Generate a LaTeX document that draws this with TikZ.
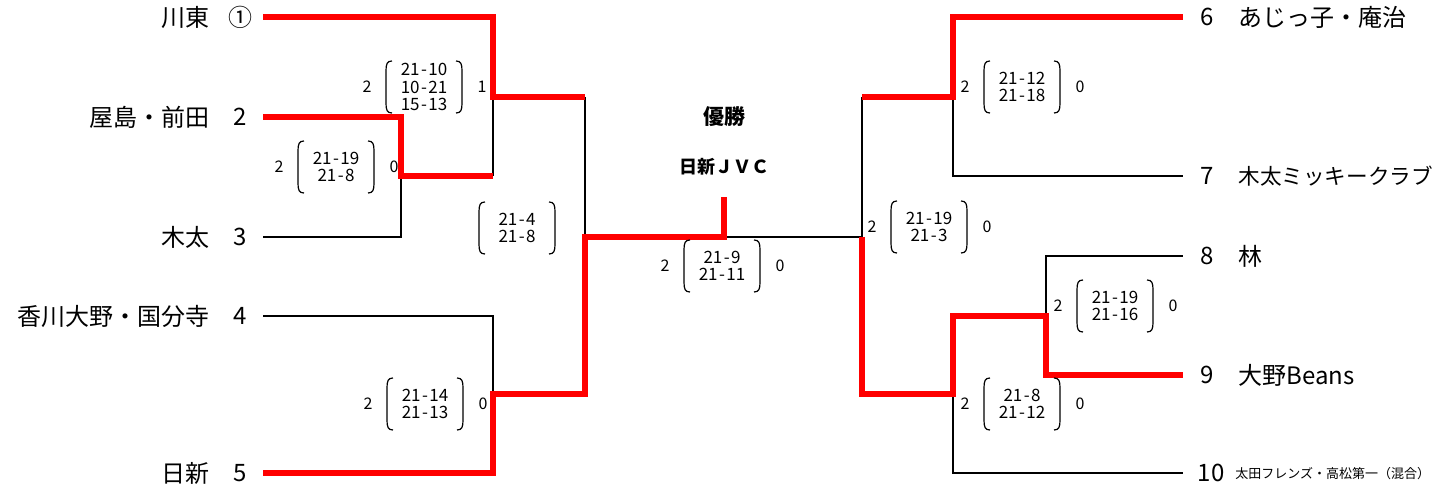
\documentclass[tikz,border=0pt]{standalone}
\usepackage{fontspec}
\newfontfamily\jp{Noto Sans CJK JP}
\newcommand\hy{\kern0.7pt-\kern0.7pt}
\tikzset{
  lose/.style={draw=black, line width=1.1pt},
  win/.style={draw=red, line width=2.6pt, line join=miter},
  team/.style={font=\jp\fontsize{12}{14}\selectfont, inner sep=0pt},
  smallteam/.style={font=\jp\fontsize{6.5}{8}\selectfont, inner sep=0pt},
  scoretxt/.style={font=\jp\fontsize{8.5}{8.8}\selectfont, align=center, inner sep=0pt},
  sidenum/.style={font=\jp\fontsize{8}{9}\selectfont, inner sep=0pt},
  brk/.style={draw=black, line width=0.6pt},
  champ/.style={font=\jp\bfseries\fontsize{10.5}{12}\selectfont, inner sep=0pt},
}
% score box: #1 name, #2 x, #3 y, #4 text, #5 left number, #6 right number
\newcommand\scorebx[6]{%
  \node[scoretxt] (#1) at (#2,#3) {#4};
  \draw[brk] ({#2-32},{#3-26}) .. controls ({#2-37},{#3-26}) and ({#2-38},{#3-23}) .. ({#2-38},{#3-16})
     -- ({#2-38},{#3+16}) .. controls ({#2-38},{#3+23}) and ({#2-37},{#3+26}) .. ({#2-32},{#3+26});
  \draw[brk] ({#2+32},{#3-26}) .. controls ({#2+37},{#3-26}) and ({#2+38},{#3-23}) .. ({#2+38},{#3-16})
     -- ({#2+38},{#3+16}) .. controls ({#2+38},{#3+23}) and ({#2+37},{#3+26}) .. ({#2+32},{#3+26});
  \node[sidenum] (#1l) at ({#2-57},#3) {#5};
  \node[sidenum] (#1r) at ({#2+58},#3) {#6};
}
\begin{document}
\begin{tikzpicture}[x=0.5pt,y=-0.5pt]
\useasboundingbox (0,0) rectangle (1450,490);

% ---- left team labels
\node[team, anchor=east] (t1) at (210,17) {川東};
\node[team] (n1) at (240,17) {①};
\node[team, anchor=east] (t2) at (210,117) {屋島・前田};
\node[team] (n2) at (240,117) {2};
\node[team, anchor=east] (t3) at (210,237) {木太};
\node[team] (n3) at (240,237) {3};
\node[team, anchor=east] (t4) at (210,316) {香川大野・国分寺};
\node[team] (n4) at (240,316) {4};
\node[team, anchor=east] (t5) at (210,473) {日新};
\node[team] (n5) at (240,473) {5};

% ---- right team labels
\node[team] (n6) at (1207,17) {6};
\node[team, anchor=west] (t6) at (1238,17) {あじっ子・庵治};
\node[team] (n7) at (1207,176) {7};
\node[team, anchor=west, font=\jp\fontsize{10.8}{13}\selectfont] (t7) at (1238,176) {木太ミッキークラブ};
\node[team] (n8) at (1207,256) {8};
\node[team, anchor=west] (t8) at (1238,256) {林};
\node[team] (n9) at (1207,375) {9};
\node[team, anchor=west] (t9) at (1238,375) {大野Beans};
\node[team] (n10) at (1211,473) {10};
\node[smallteam, anchor=west] (t10) at (1235,474) {太田フレンズ・高松第一（混合）};

% ---- coordinates
\coordinate (p1) at (263,17);
\coordinate (p2) at (263,117);
\coordinate (p3) at (263,237);
\coordinate (p4) at (263,316);
\coordinate (p5) at (263,473);
\coordinate (j1a) at (493,17);
\coordinate (j1) at (493,97);
\coordinate (j23a) at (401,117);
\coordinate (j23) at (401,176);
\coordinate (j23b) at (493,176);
\coordinate (j3) at (401,237);
\coordinate (jL) at (585,97);
\coordinate (jLm) at (585,237);
\coordinate (j4) at (493,316);
\coordinate (j45) at (493,394);
\coordinate (jLb) at (585,394);
\coordinate (j5) at (493,473);
\coordinate (cm) at (724,237);
\coordinate (cmtop) at (724,197);
\coordinate (jR) at (862,237);
\coordinate (jRt) at (862,97);
\coordinate (jRb) at (862,394);
\coordinate (q6) at (1183,17);
\coordinate (q7) at (1183,176);
\coordinate (q8) at (1183,256);
\coordinate (q9) at (1183,375);
\coordinate (q10) at (1183,473);
\coordinate (k67) at (953,97);
\coordinate (k6) at (953,17);
\coordinate (k7) at (953,176);
\coordinate (k810) at (953,394);
\coordinate (k89) at (953,316);
\coordinate (k10) at (953,473);
\coordinate (m89) at (1046,316);
\coordinate (m8) at (1046,256);
\coordinate (m9) at (1046,375);

% ---- black lines
\draw[lose] (j1) -- (j23b);
\draw[lose] (j23) -- (j3) -- (p3);
\draw[lose] (jL) -- (jLm);
\draw[lose] (p4) -- (j4) -- (j45);
\draw[lose] (cm) -- (jR) -- (jRt);
\draw[lose] (k67) -- (k7) -- (q7);
\draw[lose] (m89) -- (m8) -- (q8);
\draw[lose] (k810) -- (k10) -- (q10);

% ---- red lines
\draw[win] (p1) -- (j1a) -- (j1) -- (jL);
\draw[win] (p2) -- (j23a) -- (j23) -- (j23b);
\draw[win] (p5) -- (j5) -- (j45) -- (jLb) -- (jLm) -- (cm) -- (cmtop);
\draw[win] (jRt) -- (k67) -- (k6) -- (q6);
\draw[win] (jR) -- (jRb) -- (k810) -- (k89) -- (m89) -- (m9) -- (q9);

% ---- champion
\node[champ] (yusho) at (724,117) {優勝};
\node[champ, font=\jp\bfseries\fontsize{9}{11}\selectfont] (winner) at (724,167) {日新ＪＶＣ};

% ---- scores
\scorebx{sA}{424}{87}{21\hy10\\10\hy21\\15\hy13}{2}{1}
\scorebx{sB}{336}{167}{21\hy19\\21\hy8}{2}{0}
\scorebx{sC}{517}{228}{21\hy4\\21\hy8}{}{}
\scorebx{sD}{425}{404}{21\hy14\\21\hy13}{2}{0}
\scorebx{sE}{722}{266}{21\hy9\\21\hy11}{2}{0}
\scorebx{sF}{929}{227}{21\hy19\\21\hy3}{2}{0}
\scorebx{sG}{1022}{87}{21\hy12\\21\hy18}{2}{0}
\scorebx{sH}{1115}{306}{21\hy19\\21\hy16}{2}{0}
\scorebx{sI}{1022}{404}{21\hy8\\21\hy12}{2}{0}
\end{tikzpicture}
\end{document}
